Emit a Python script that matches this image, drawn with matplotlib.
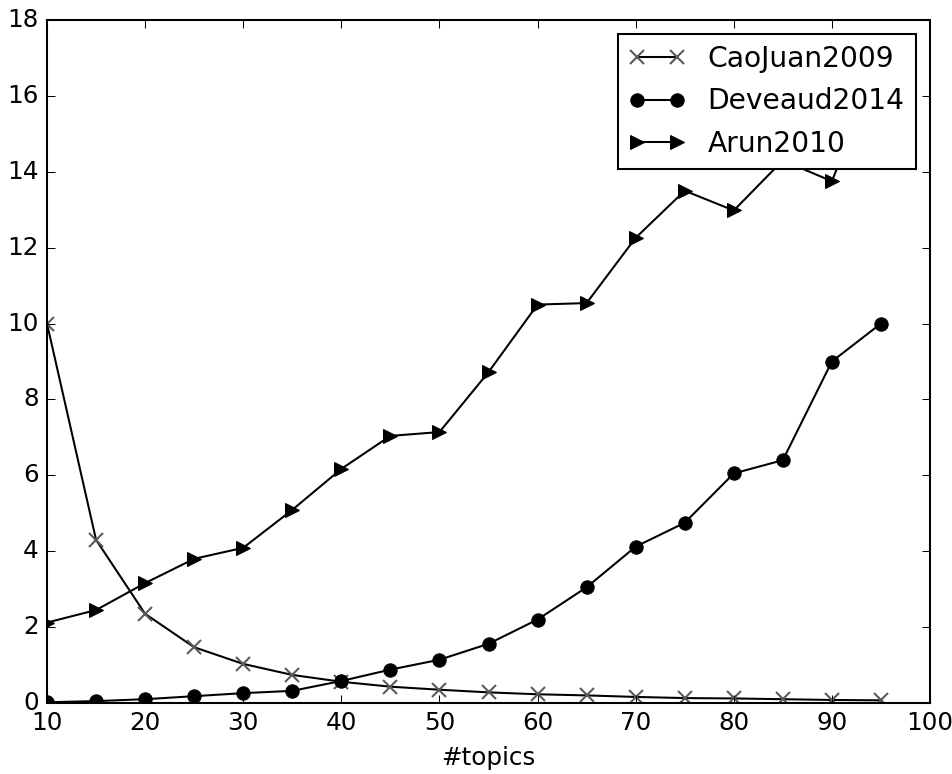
import matplotlib; matplotlib.use("Agg"); import matplotlib.pyplot as plt

topics = [10, 15, 20, 25, 30, 35, 40, 45, 50, 55, 60, 65, 70, 75, 80, 85, 90, 95]
caojuan2009 = [10.0, 4.3, 2.35, 1.47, 1.03, 0.74, 0.56, 0.43, 0.35, 0.28, 0.23, 0.2, 0.16, 0.13, 0.12, 0.1, 0.08, 0.07]
deveaud2014 = [0.02, 0.05, 0.1, 0.18, 0.26, 0.32, 0.58, 0.88, 1.14, 1.56, 2.2, 3.05, 4.12, 4.75, 6.05, 6.4, 9.0, 10.0]
arun2010 = [2.12, 2.45, 3.16, 3.8, 4.09, 5.09, 6.17, 7.04, 7.14, 8.72, 10.5, 10.54, 12.26, 13.5, 12.98, 14.3, 13.75, 17.0]

plt.style.use("classic")
DPI = 148
fig = plt.figure(figsize=(952 / DPI, 774 / DPI), dpi=DPI, facecolor="white")
ax = fig.add_axes([47 / 952, 1 - 703 / 774, (930 - 47) / 952, (703 - 20) / 774])
ax.plot(topics, caojuan2009, "k-", marker="x", mec="0.35", mew=1.0, ms=7, label="CaoJuan2009")
ax.plot(topics, deveaud2014, "k-", marker="o", ms=6.5, label="Deveaud2014")
ax.plot(topics, arun2010, "k-", marker=">", ms=6.5, label="Arun2010")
ax.set_xlim(10, 100); ax.set_ylim(0, 18)
ax.set_xlabel("#topics")
ax.legend(loc="upper right", fontsize=13.7)
fig.savefig("out.png", dpi=DPI, facecolor="white")
